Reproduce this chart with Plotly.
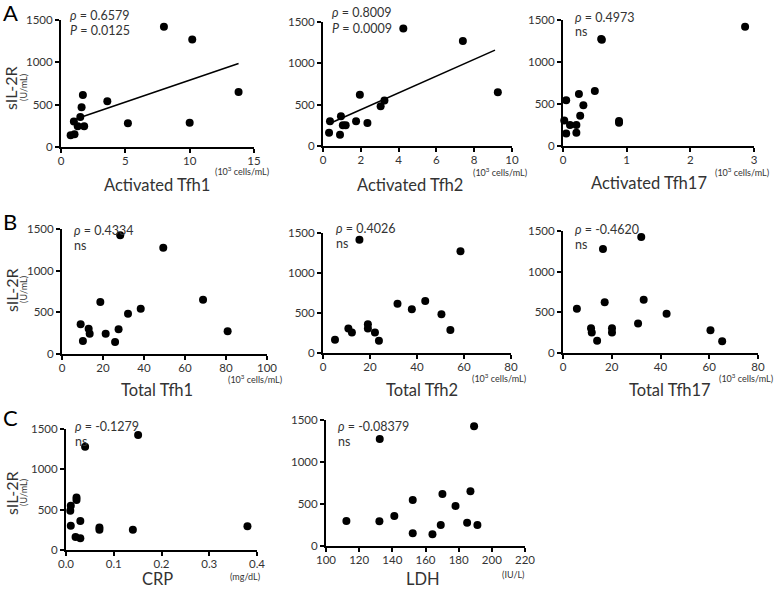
import plotly.graph_objects as go

W, H = 778, 589

# --- data (sIL-2R in U/mL) ---
act_tfh1_x = [8.0, 10.2, 13.8, 10.0, 5.2, 3.6, 1.7, 1.6, 1.5, 1.0, 1.3, 1.8, 0.75, 1.05]
act_tfh1_y = [1420, 1270, 650, 285, 280, 540, 615, 470, 355, 300, 245, 245, 140, 150]
act_tfh1_fit_x = [1.2, 13.8]
act_tfh1_fit_y = [335, 985]

act_tfh2_x = [4.25, 7.4, 9.25, 1.95, 3.25, 3.05, 0.95, 0.37, 1.75, 2.35, 1.05, 1.2, 0.32, 0.9]
act_tfh2_y = [1420, 1270, 650, 620, 550, 480, 360, 298, 298, 278, 250, 250, 160, 137]
act_tfh2_fit_x = [0.44, 9.1]
act_tfh2_fit_y = [282, 1160]

act_tfh17_x = [2.86, 0.6, 0.61, 0.5, 0.25, 0.05, 0.32, 0.27, 0.02, 0.88, 0.88, 0.11, 0.21, 0.05, 0.21]
act_tfh17_y = [1420, 1275, 1265, 655, 620, 545, 485, 360, 305, 298, 277, 250, 250, 150, 158]

tot_tfh1_x = [28.4, 49.4, 68.8, 80.8, 18.7, 38.4, 32.2, 27.6, 9.1, 13.0, 13.5, 21.3, 10.2, 25.9]
tot_tfh1_y = [1424, 1276, 652, 272, 624, 544, 484, 296, 356, 304, 244, 244, 156, 144]

tot_tfh2_x = [15.5, 58.5, 31.7, 37.8, 43.5, 50.4, 54.2, 10.8, 12.3, 19.1, 19.1, 22.1, 23.8, 5.1]
tot_tfh2_y = [1417, 1272, 617, 547, 651, 485, 286, 307, 257, 360, 307, 257, 153, 166]

tot_tfh17_x = [32.1, 16.4, 17.1, 33.1, 5.7, 42.5, 30.8, 11.5, 11.8, 20.1, 20.1, 14.0, 60.5, 65.3]
tot_tfh17_y = [1425, 1280, 625, 655, 545, 482, 362, 305, 252, 305, 252, 152, 280, 145]

crp_x = [0.151, 0.04, 0.022, 0.022, 0.01, 0.009, 0.01, 0.03, 0.07, 0.07, 0.14, 0.38, 0.02, 0.03]
crp_y = [1425, 1280, 650, 620, 548, 488, 302, 360, 280, 252, 252, 295, 160, 145]

ldh_x = [189.3, 132.4, 187.1, 170.2, 152.3, 178.1, 141.2, 112.3, 132.2, 185.1, 169.2, 191.3, 152.3, 164.2]
ldh_y = [1425, 1275, 652, 619, 548, 476, 357, 298, 294, 278, 250, 250, 151, 139]

y_ticks = [0, 500, 1000, 1500]


def px(x):
    return x / W


def py(y):
    return 1 - y / H


# panel: data, axis pixel box (x0, x1, y_bottom, y_top), range, ticks, texts
panels = [
    dict(x=act_tfh1_x, y=act_tfh1_y, fit=(act_tfh1_fit_x, act_tfh1_fit_y),
         box=(61, 254, 147, 20), xr=[0, 15], xt=[0, 5, 10, 15], fmt=None,
         title="Activated Tfh1", tx=157, ty=185, unit="(10<sup>3</sup> cells/mL)", uy=171,
         rho="<i>ρ</i> = 0.6579", p="<i>P</i> = 0.0125", rx=68, ry=15),
    dict(x=act_tfh2_x, y=act_tfh2_y, fit=(act_tfh2_fit_x, act_tfh2_fit_y),
         box=(323, 512, 146, 22), xr=[0, 10], xt=[0, 2, 4, 6, 8, 10], fmt=None,
         title="Activated Tfh2", tx=410, ty=185, unit="(10<sup>3</sup> cells/mL)", uy=172,
         rho="<i>ρ</i> = 0.8009", p="<i>P</i> = 0.0009", rx=330, ry=13),
    dict(x=act_tfh17_x, y=act_tfh17_y, fit=None,
         box=(563, 754, 146, 20), xr=[0, 3], xt=[0, 1, 2, 3], fmt=None,
         title="Activated Tfh17", tx=649, ty=183, unit="(10<sup>3</sup> cells/mL)", uy=172,
         rho="<i>ρ</i> = 0.4973", p="ns", rx=573, ry=17),
    dict(x=tot_tfh1_x, y=tot_tfh1_y, fit=None,
         box=(62, 267, 354, 229), xr=[0, 100], xt=[0, 20, 40, 60, 80, 100], fmt=None,
         title="Total Tfh1", tx=157, ty=390, unit="(10<sup>3</sup> cells/mL)", uy=379,
         rho="<i>ρ</i> = 0.4334", p="ns", rx=72, ry=230),
    dict(x=tot_tfh2_x, y=tot_tfh2_y, fit=None,
         box=(323, 511, 353, 233), xr=[0, 80], xt=[0, 20, 40, 60, 80], fmt=None,
         title="Total Tfh2", tx=422, ty=390, unit="(10<sup>3</sup> cells/mL)", uy=378,
         rho="<i>ρ</i> = 0.4026", p="ns", rx=334, ry=228),
    dict(x=tot_tfh17_x, y=tot_tfh17_y, fit=None,
         box=(563, 758, 353, 231), xr=[0, 80], xt=[0, 20, 40, 60, 80], fmt=None,
         title="Total Tfh17", tx=670, ty=390, unit="(10<sup>3</sup> cells/mL)", uy=378,
         rho="<i>ρ</i> = -0.4620", p="ns", rx=573, ry=229),
    dict(x=crp_x, y=crp_y, fit=None,
         box=(66, 257, 550, 429), xr=[0, 0.4], xt=[0, 0.1, 0.2, 0.3, 0.4], fmt=".1f",
         title="CRP", tx=157, ty=579, unit="(mg/dL)", uy=576,
         rho="<i>ρ</i> = -0.1279", p="ns", rx=73, ry=426),
    dict(x=ldh_x, y=ldh_y, fit=None,
         box=(326, 525, 546, 420), xr=[100, 220], xt=[100, 120, 140, 160, 180, 200, 220], fmt=None,
         title="LDH", tx=423, ty=579, unit="(IU/L)", uy=574,
         rho="<i>ρ</i> = -0.08379", p="ns", rx=336, ry=426),
]

FONT = "Lato, 'Open Sans', sans-serif"
TXT = "#333333"

fig = go.Figure()
annotations = []

for i, p in enumerate(panels):
    n = "" if i == 0 else str(i + 1)
    xa, ya = "x" + n, "y" + n
    x0, x1, yb, yt = p["box"]

    fig.add_trace(go.Scatter(
        x=p["x"], y=p["y"], mode="markers", xaxis=xa, yaxis=ya,
        marker=dict(size=8, color="black"), cliponaxis=False, showlegend=False
    ))
    if p["fit"]:
        fig.add_trace(go.Scatter(
            x=p["fit"][0], y=p["fit"][1], mode="lines", xaxis=xa, yaxis=ya,
            line=dict(color="black", width=1.6), showlegend=False
        ))

    axis_common = dict(
        showline=True, linecolor="black", linewidth=2, ticks="outside",
        ticklen=4, tickwidth=1.5, tickcolor="black", showgrid=False, zeroline=False,
        automargin=False, tickfont=dict(family=FONT, size=11.5, color=TXT), fixedrange=True
    )
    fig.layout["xaxis" + n] = dict(
        axis_common, domain=[px(x0), px(x1)], anchor=ya, range=p["xr"],
        tickvals=p["xt"], tickformat=p["fmt"], ticklabelstandoff=-2
    )
    fig.layout["yaxis" + n] = dict(
        axis_common, domain=[py(yb), py(yt)], anchor=xa, range=[0, 1500],
        tickvals=y_ticks
    )

    annotations += [
        dict(x=px(p["tx"]), y=py(p["ty"]), text=p["title"], xanchor="center",
             font=dict(family=FONT, size=16.5, color=TXT)),
        dict(x=px(x1 - 12), y=py(p["uy"]), text=p["unit"], xanchor="center",
             font=dict(family=FONT, size=9, color=TXT)),
        dict(x=px(p["rx"]), y=py(p["ry"]), text=p["rho"], xanchor="left",
             font=dict(family=FONT, size=12.5, color=TXT)),
        dict(x=px(p["rx"]), y=py(p["ry"] + 15), text=p["p"], xanchor="left",
             font=dict(family=FONT, size=12.5, color=TXT)),
    ]

# row labels and y-axis titles
for letter, ly, ty, ux in [("A", 13, 88, 24), ("B", 221, 290, 23), ("C", 417, 493, 23)]:
    annotations += [
        dict(x=px(10), y=py(ly), text=letter, xanchor="center",
             font=dict(family=FONT, size=22, color="black")),
        dict(x=px(11), y=py(ty), text="sIL-2R", textangle=-90, xanchor="center",
             font=dict(family=FONT, size=16, color=TXT)),
        dict(x=px(ux), y=py(ty), text="(U/mL)", textangle=-90, xanchor="center",
             font=dict(family=FONT, size=9, color=TXT)),
    ]

fig.update_layout(
    template="none",
    width=W, height=H,
    margin=dict(l=0, r=0, t=0, b=0),
    paper_bgcolor="white", plot_bgcolor="white",
    annotations=[dict(a, xref="paper", yref="paper", yanchor="middle", showarrow=False)
                 for a in annotations],
)

# drop the default body margin so the figure sits at the page corner
fig.write_html("out.html", config={"displayModeBar": False},
               post_script="document.body.style.margin = '0px';")
